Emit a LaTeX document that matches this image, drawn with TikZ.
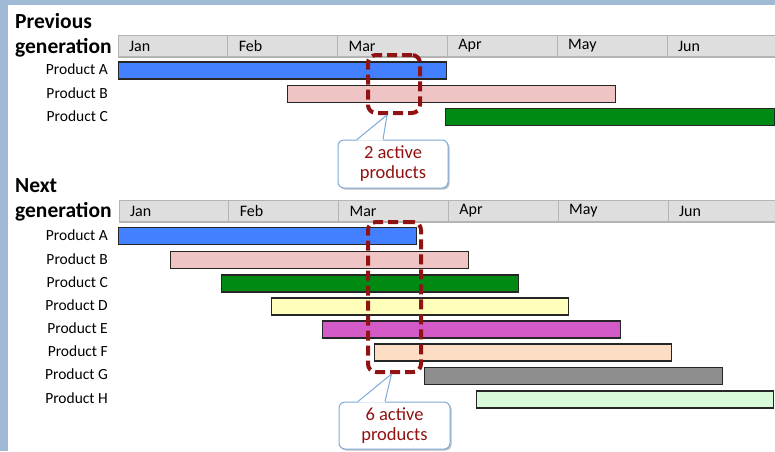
\documentclass[tikz,border=0pt]{standalone}
\usepackage{fontspec}
\setmainfont{Carlito}
\usetikzlibrary{positioning,shadows}

\definecolor{frameblue}{RGB}{160,186,213}
\definecolor{headgray}{RGB}{222,222,222}
\definecolor{headedge}{RGB}{180,180,180}
\definecolor{markred}{RGB}{145,18,18}
\definecolor{noteblue}{RGB}{125,170,215}
\definecolor{barA}{RGB}{66,128,255}
\definecolor{barB}{RGB}{238,196,196}
\definecolor{barC}{RGB}{0,138,20}
\definecolor{barD}{RGB}{255,255,187}
\definecolor{barE}{RGB}{212,90,200}
\definecolor{barF}{RGB}{253,222,196}
\definecolor{barG}{RGB}{142,142,142}
\definecolor{barH}{RGB}{216,250,216}

\tikzset{
  month/.style={draw=headedge, fill=headgray, line width=1pt, outer sep=0pt,
    minimum height=22pt, text width=87.8pt, inner xsep=11pt, inner ysep=0pt,
    align=left, font=\fontsize{16}{16}\selectfont},
  bar/.style={draw=black!85, line width=1.2pt, anchor=west, minimum height=17pt, inner sep=0pt},
  prodlabel/.style={anchor=east, inner sep=0pt, font=\fontsize{15.5}{15.5}\selectfont},
  genlabel/.style={anchor=north west, inner sep=0pt, align=left,
    font=\fontsize{21.5}{25}\selectfont\bfseries},
  active/.style={draw=markred, line width=4pt, dash pattern=on 10pt off 5pt,
    rounded corners=8pt, inner sep=0pt},
  note/.style={draw=noteblue, fill=white, line width=1pt, rounded corners=6pt,
    align=center, text=markred, inner sep=0pt, font=\fontsize{18.5}{20}\selectfont,
    drop shadow={shadow xshift=1.5pt, shadow yshift=-1.5pt, opacity=0.25, fill=black}},
  pointer/.style={draw=noteblue, line width=1pt, line join=round}
}

\begin{document}
\begin{tikzpicture}[x=1pt, y=-1pt]
    \useasboundingbox (0,0) rectangle (775,451);
    \fill[frameblue] (0,0) rectangle (775,451);
    \fill[white] (8,5) rectangle (775,451);

    % previous generation
    \node[genlabel] (prevtitle) at (15,13) {Previous\\generation};
    \node[month, anchor=west] (pjan) at (118,46) {Jan};
    \node[month, right=0pt of pjan] (pfeb) {Feb};
    \node[month, right=0pt of pfeb] (pmar) {Mar};
    \node[month, right=0pt of pmar] (papr) {Apr};
    \node[month, right=0pt of papr] (pmay) {May};
    \node[month, right=0pt of pmay] (pjun) {Jun};
    \draw[headedge, line width=2pt] (pjan.south west) -- (pjun.south east);

    \node[prodlabel] (plabA) at (108,69.5) {Product A};
    \node[prodlabel] (plabB) at (108,93) {Product B};
    \node[prodlabel] (plabC) at (108,116) {Product C};
    \node[bar, fill=barA, minimum width=328pt] (prevA) at (118,70.5) {};
    \node[bar, fill=barB, minimum width=328pt] (prevB) at (287,94) {};
    \node[bar, fill=barC, minimum width=329pt] (prevC) at (445,117) {};

    \node[active, minimum width=52pt, minimum height=58pt] (prevbox) at (394,84) {};
    \node[note, minimum width=110pt, minimum height=48pt] (prevnote) at (393,164) {2 active\\products};
    \fill[white] ([xshift=-36pt, yshift=-1pt]prevnote.north) -- ([xshift=-7pt]prevbox.south)
        -- ([xshift=-10pt, yshift=-1pt]prevnote.north) -- cycle;
    \draw[pointer] ([xshift=-36pt]prevnote.north) -- ([xshift=-7pt]prevbox.south)
        -- ([xshift=-10pt]prevnote.north);

    % next generation
    \node[genlabel] (nexttitle) at (15,178) {Next\\generation};
    \node[month, anchor=west] (njan) at (119,211) {Jan};
    \node[month, right=0pt of njan] (nfeb) {Feb};
    \node[month, right=0pt of nfeb] (nmar) {Mar};
    \node[month, right=0pt of nmar] (napr) {Apr};
    \node[month, right=0pt of napr] (nmay) {May};
    \node[month, right=0pt of nmay] (njun) {Jun};
    \draw[headedge, line width=2pt] (njan.south west) -- (njun.south east);

    \node[prodlabel] (nlabA) at (108,235) {Product A};
    \node[prodlabel] (nlabB) at (108,259) {Product B};
    \node[prodlabel] (nlabC) at (108,282) {Product C};
    \node[prodlabel] (nlabD) at (108,305) {Product D};
    \node[prodlabel] (nlabE) at (108,328) {Product E};
    \node[prodlabel] (nlabF) at (108,351) {Product F};
    \node[prodlabel] (nlabG) at (108,374.5) {Product G};
    \node[prodlabel] (nlabH) at (108,398) {Product H};
    \node[bar, fill=barA, minimum width=298pt] (nextA) at (118,236) {};
    \node[bar, fill=barB, minimum width=298pt] (nextB) at (170,260) {};
    \node[bar, fill=barC, minimum width=297pt] (nextC) at (221,283.5) {};
    \node[bar, fill=barD, minimum width=297pt] (nextD) at (271,306.5) {};
    \node[bar, fill=barE, minimum width=298pt] (nextE) at (322,329.5) {};
    \node[bar, fill=barF, minimum width=297pt] (nextF) at (374,352.5) {};
    \node[bar, fill=barG, minimum width=298pt] (nextG) at (424,376) {};
    \node[bar, fill=barH, minimum width=297pt] (nextH) at (476,399.5) {};

    \node[active, minimum width=53pt, minimum height=150pt] (nextbox) at (394.5,297) {};
    \node[note, minimum width=111pt, minimum height=47pt] (nextnote) at (394.5,425.5) {6 active\\products};
    \fill[white] ([xshift=-36.5pt, yshift=-1pt]nextnote.north) -- ([xshift=-3pt]nextbox.south)
        -- ([xshift=-9.5pt, yshift=-1pt]nextnote.north) -- cycle;
    \draw[pointer] ([xshift=-36.5pt]nextnote.north) -- ([xshift=-3pt]nextbox.south)
        -- ([xshift=-9.5pt]nextnote.north);
\end{tikzpicture}
\end{document}
